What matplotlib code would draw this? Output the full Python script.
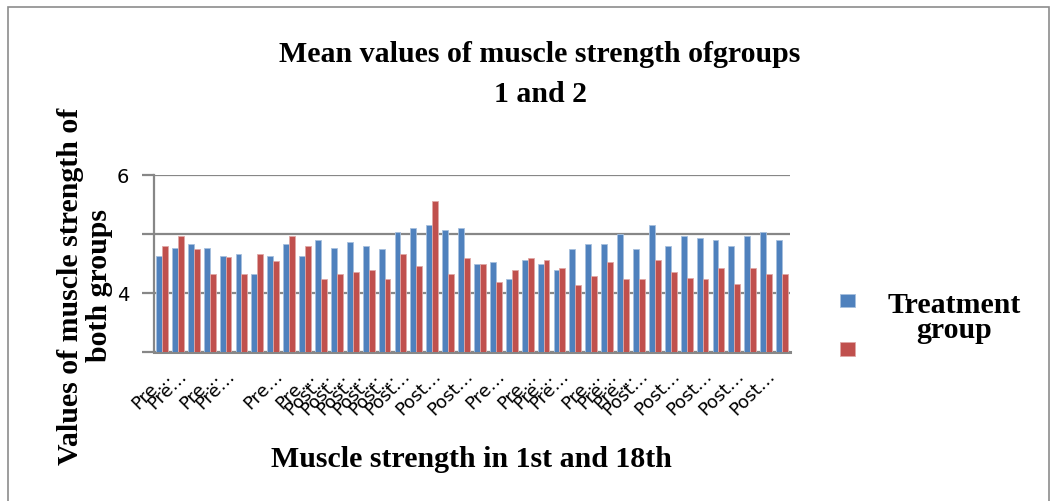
import matplotlib.pyplot as plt
from matplotlib.patches import Rectangle
import numpy as np

# group means (40 categories)
treatment = [4.63, 4.77, 4.83, 4.77, 4.63, 4.66, 4.33, 4.63, 4.83, 4.63,
             4.90, 4.77, 4.86, 4.80, 4.74, 5.03, 5.10, 5.16, 5.06, 5.10,
             4.49, 4.53, 4.23, 4.56, 4.49, 4.39, 4.74, 4.83, 4.83, 5.00,
             4.74, 5.16, 4.80, 4.97, 4.93, 4.90, 4.80, 4.97, 5.03, 4.90]
control = [4.80, 4.97, 4.74, 4.33, 4.61, 4.33, 4.66, 4.55, 4.97, 4.80,
           4.23, 4.33, 4.36, 4.39, 4.23, 4.66, 4.46, 5.56, 4.33, 4.60,
           4.49, 4.19, 4.39, 4.60, 4.56, 4.43, 4.13, 4.29, 4.53, 4.23,
           4.23, 4.56, 4.36, 4.26, 4.23, 4.43, 4.16, 4.43, 4.33, 4.33]

# category labels as shown (Excel dropped most of them)
categories = ['Pre…', 'Pre…', '', 'Pre…', 'Pre…', '', '', 'Pre…', '', 'Pre…',
              'Post…', 'Post…', 'Post…', 'Post…', 'Post…', 'Post…', '', 'Post…', '', 'Post…',
              '', 'Pre…', '', 'Pre…', 'Pre…', 'Pre…', '', 'Pre…', 'Pre…', 'Pre…',
              'Post…', '', 'Post…', '', 'Post…', '', 'Post…', '', 'Post…', '']

yticks = [3, 4, 5, 6]
ytick_labels = ['', '4', '', '6']

blue = '#4F81BD'
red = '#C0504D'
grid_c = '#878787'
serif = 'Liberation Serif'
big = 21.5

fig = plt.figure(figsize=(10.57, 5.02), dpi=100)
ax = fig.add_axes([154/1057, 149/502, 636/1057, 177/502])

x = np.arange(1, len(treatment) + 1)
w = 0.37
b1 = ax.bar(x - w/2, np.array(treatment) - 3, w, bottom=3, color=blue,
            edgecolor='#A7C0DE', linewidth=0.6, zorder=3)
b2 = ax.bar(x + w/2, np.array(control) - 3, w, bottom=3, color=red,
            edgecolor='#E0A8A6', linewidth=0.6, zorder=3)

ax.set_xlim(0.5, len(x) + 0.5)
ax.set_ylim(3, 6)
ax.set_yticks(yticks)
ax.set_yticklabels(ytick_labels, fontsize=14)
ax.yaxis.grid(True, color=grid_c, linewidth=1.6, zorder=0)
ax.tick_params(axis='y', length=9, width=1.6, color=grid_c, pad=9)

ax.set_xticks(x)
ax.set_xticklabels(categories, rotation=45, ha='right', rotation_mode='anchor',
                   fontsize=13)
ax.tick_params(axis='x', length=0, pad=10)

for s in ['top', 'right']:
    ax.spines[s].set_visible(False)
ax.spines['left'].set_color(grid_c)
ax.spines['left'].set_linewidth(1.6)
ax.spines['bottom'].set_color(grid_c)
ax.spines['bottom'].set_linewidth(2.2)

fig.text(540/1057, 1 - 55/502, 'Mean values of muscle strength ofgroups',
         ha='center', va='center', family=serif, weight='bold', fontsize=big)
fig.text(540/1057, 1 - 95/502, '1 and 2',
         ha='center', va='center', family=serif, weight='bold', fontsize=big)

fig.text(471/1057, 1 - 460/502, 'Muscle strength in 1st and 18th',
         ha='center', va='center', family=serif, weight='bold', fontsize=big)

fig.text(85/1057, 1 - 286/502, 'Values of muscle strength of\nboth groups',
         ha='center', va='center', rotation=90, family=serif, weight='bold',
         fontsize=big, linespacing=1.08, multialignment='center')

# legend: coloured keys, label text set beside the first key
leg = fig.legend([b1, b2], ['', ''],
                 loc='upper left', bbox_to_anchor=(840/1057, 1 - 295/502),
                 frameon=False, borderpad=0, borderaxespad=0,
                 handlelength=1.1, handleheight=1.1, handletextpad=0,
                 labelspacing=2.45, prop={'size': 10})
fig.text(954/1057, 1 - 318/502, 'Treatment\ngroup', ha='center', va='center',
         family=serif, weight='bold', fontsize=big, linespacing=0.95,
         multialignment='center')

# outer chart border
fig.patches.append(Rectangle((8/1057, -0.05), 1041/1057, 1 - 8/502 + 0.05,
                             transform=fig.transFigure, fill=False,
                             edgecolor='#8c8c8c', linewidth=1.2))

fig.savefig('out.png', dpi=100)
